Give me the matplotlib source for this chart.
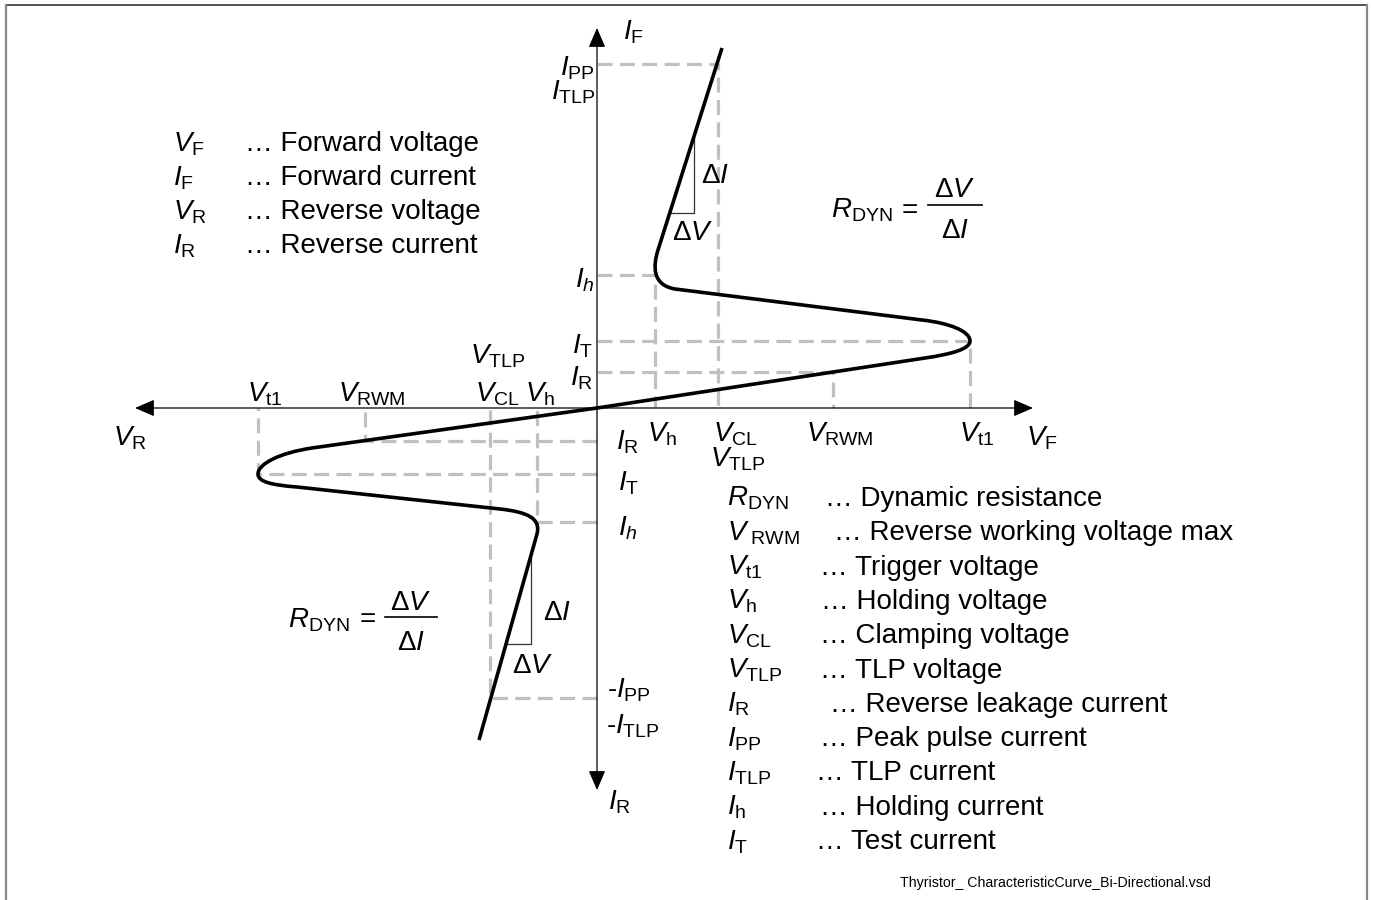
import matplotlib
matplotlib.use('Agg')
import matplotlib.pyplot as plt
from matplotlib.path import Path
from matplotlib.patches import PathPatch
from matplotlib.lines import Line2D

plt.rcParams['font.family'] = ['Liberation Sans', 'DejaVu Sans']
plt.rcParams['mathtext.fontset'] = 'custom'
plt.rcParams['mathtext.rm'] = 'Liberation Sans'
plt.rcParams['mathtext.it'] = 'Liberation Sans:italic'
plt.rcParams['mathtext.bf'] = 'Liberation Sans:bold'

# characteristic levels (schematic units, origin in the middle)
v_fwd = {'Vh': 58, 'VCL': 121, 'VRWM': 236, 'Vt1': 373}
i_fwd = {'IR': 36, 'IT': 67, 'Ih': 133, 'IPP': 344}
v_rev = {'Vh': -60, 'VCL': -107, 'VRWM': -232, 'Vt1': -339}
i_rev = {'IR': -33, 'IT': -66, 'Ih': -114, 'IPP': -290}
corners = [('VCL', 'IPP'), ('Vh', 'Ih'), ('Vt1', 'IT'), ('VRWM', 'IR')]

# S-shaped I/V curve as bezier knots (V, I)
curve_pts = [(125, 360), (61, 158),
             (56, 142), (55, 123), (78, 119),
             (325, 88),
             (352, 85), (373, 77), (373, 67),
             (373, 59), (355, 54), (328, 50),
             (0, 0), (-285, -40),
             (-318, -45), (-339, -56), (-339, -66),
             (-339, -74), (-325, -77), (-300, -79),
             (-97, -101),
             (-70, -104), (-56, -110), (-60, -126),
             (-118, -332)]
curve_codes = ([Path.MOVETO, Path.LINETO] + [Path.CURVE4] * 3 + [Path.LINETO]
               + [Path.CURVE4] * 6 + [Path.LINETO, Path.LINETO] + [Path.CURVE4] * 6
               + [Path.LINETO] + [Path.CURVE4] * 3 + [Path.LINETO])

# slope triangles
tri_up_v = [72.7, 96.8, 96.8]
tri_up_i = [195, 195, 271]
tri_lo_v = [-91, -66, -66]
tri_lo_i = [-236, -236, -150]

left_sym = [r'$V_{\mathrm{F}}$', r'$I_{\mathrm{F}}$', r'$V_{\mathrm{R}}$', r'$I_{\mathrm{R}}$']
left_desc = ['… Forward voltage', '… Forward current', '… Reverse voltage', '… Reverse current']

right_sym = [r'$R_{\mathrm{DYN}}$', r'$V_{\ \mathrm{RWM}}$', r'$V_{\mathrm{t1}}$', r'$V_{\mathrm{h}}$',
             r'$V_{\mathrm{CL}}$', r'$V_{\mathrm{TLP}}$', r'$I_{\mathrm{R}}$', r'$I_{\mathrm{PP}}$',
             r'$I_{\mathrm{TLP}}$', r'$I_{\mathrm{h}}$', r'$I_{\mathrm{T}}$']
right_desc = ['… Dynamic resistance', '… Reverse working voltage max', '… Trigger voltage',
              '… Holding voltage', '… Clamping voltage', '… TLP voltage',
              '… Reverse leakage current', '… Peak pulse current', '… TLP current',
              '… Holding current', '… Test current']
right_desc_x = [228, 237, 223, 224, 223, 223, 233, 223, 219, 223, 219]

FS = 20
grey = '#c0c0c0'

fig = plt.figure(figsize=(13.73, 9), dpi=100)
ax = fig.add_axes([0, 0, 1, 1])
ax.set_xlim(-597, 776)
ax.set_ylim(-492, 408)
ax.axis('off')

# frame
fig.add_artist(Line2D([6 / 1373, 1367 / 1373], [895 / 900, 895 / 900], color='#333333', lw=1.2))
fig.add_artist(Line2D([6 / 1373, 6 / 1373], [0, 895 / 900], color='#888888', lw=1.6))
fig.add_artist(Line2D([1367 / 1373, 1367 / 1373], [0, 895 / 900], color='#888888', lw=1.6))

# axes with arrows
arw = dict(arrowstyle='-|>,head_length=0.6,head_width=0.26', color='black', lw=0.9,
           shrinkA=0, shrinkB=0, mutation_scale=20)
for tip in [(436, 0), (-462, 0), (0, 380), (0, -382)]:
    ax.annotate('', xy=tip, xytext=(0, 0), arrowprops=arw)

# dashed guide lines
dash = dict(color=grey, lw=2.3, linestyle=(0, (4.7, 2.3)), zorder=1)
for vk, ik in corners:
    ax.plot([0, v_fwd[vk], v_fwd[vk]], [i_fwd[ik], i_fwd[ik], 0], **dash)
    ax.plot([0, v_rev[vk], v_rev[vk]], [i_rev[ik], i_rev[ik], 0], **dash)

# curve
ax.add_patch(PathPatch(Path(curve_pts, curve_codes), fill=False, lw=2.6,
                       edgecolor='black', capstyle='butt', zorder=3))

ax.plot(tri_up_v, tri_up_i, color='#333333', lw=0.9)
ax.plot(tri_lo_v, tri_lo_i, color='#333333', lw=0.9)


def t(x, y, s, ha='left', fs=FS):
    ax.text(x, y, s, ha=ha, va='baseline', fontsize=fs)


# axis-end labels
t(36, 368, r'$I_{\mathrm{F}}$', 'center')
t(445, -37, r'$V_{\mathrm{F}}$', 'center')
t(-467, -37, r'$V_{\mathrm{R}}$', 'center')
t(11, -401, r'$I_{\mathrm{R}}$')

# voltage labels, reverse side
t(-332, 7, r'$V_{\mathrm{t1}}$', 'center')
t(-225, 7, r'$V_{\mathrm{RWM}}$', 'center')
t(-100, 7, r'$V_{\mathrm{CL}}$', 'center')
t(-99, 45, r'$V_{\mathrm{TLP}}$', 'center')
t(-57, 7, r'$V_{\mathrm{h}}$', 'center')

# voltage labels, forward side
t(65, -33, r'$V_{\mathrm{h}}$', 'center')
t(138, -33, r'$V_{\mathrm{CL}}$', 'center')
t(141, -58, r'$V_{\mathrm{TLP}}$', 'center')
t(243, -33, r'$V_{\mathrm{RWM}}$', 'center')
t(380, -33, r'$V_{\mathrm{t1}}$', 'center')

# current labels
t(-2, 333, r'$I_{\mathrm{PP}}$', 'right')
t(-2, 308, r'$I_{\mathrm{TLP}}$', 'right')
t(-2, 121, r'$I_{h}$', 'right')
t(-4, 54, r'$I_{\mathrm{T}}$', 'right')
t(-4, 22, r'$I_{\mathrm{R}}$', 'right')
t(19, -41, r'$I_{\mathrm{R}}$')
t(21, -82, r'$I_{\mathrm{T}}$')
t(21, -128, r'$I_{h}$')
t(10, -290, r'-$I_{\mathrm{PP}}$')
t(9, -325, r'-$I_{\mathrm{TLP}}$')

# slope labels
t(118, 225, r'$\Delta I$', 'center')
t(96, 168, r'$\Delta V$', 'center')
t(-40, -212, r'$\Delta I$', 'center')
t(-64, -265, r'$\Delta V$', 'center')

# R_DYN formulas
for rx, ry, eqx, bx0, bx1, by, nby, dby in [(234, 190, 313, 331, 385, 203, 211, 170),
                                              (-309, -219, -229, -212, -160, -209, -202, -242)]:
    t(rx, ry, r'$R_{\mathrm{DYN}}$')
    t(eqx, ry, '=', 'center')
    ax.plot([bx0, bx1], [by, by], color='black', lw=1.2)
    t((bx0 + bx1) / 2, nby, r'$\Delta V$', 'center')
    t((bx0 + bx1) / 2, dby, r'$\Delta I$', 'center')

# legends
for k, (sym, desc) in enumerate(zip(left_sym, left_desc)):
    y = 257 - 34 * k
    t(-424, y, sym)
    t(-352, y, desc)

for k, (sym, desc) in enumerate(zip(right_sym, right_desc)):
    y = -98 - 34.3 * k
    t(130, y, sym)
    t(right_desc_x[k], y, desc)

t(303, -479, 'Thyristor_ CharacteristicCurve_Bi-Directional.vsd', fs=10.2)

fig.savefig('out.png', dpi=100)
